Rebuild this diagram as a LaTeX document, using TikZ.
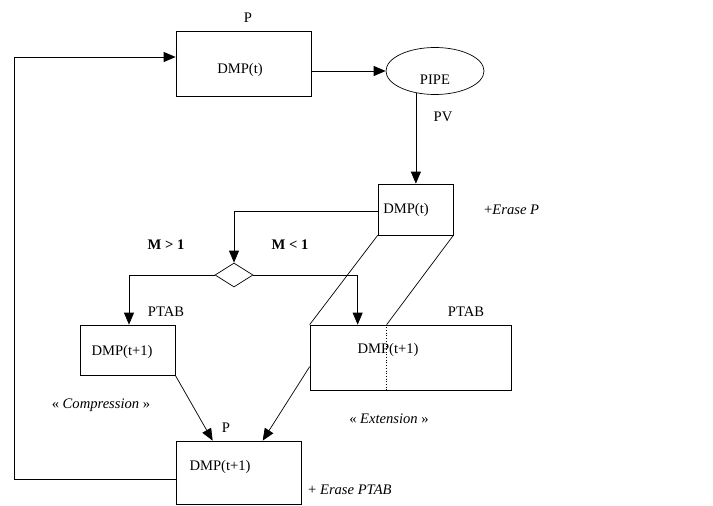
\documentclass[tikz,border=0pt]{standalone}
\usepackage{fontspec}
\setmainfont{Liberation Serif}
\usetikzlibrary{shapes.geometric,arrows.meta,calc}
\begin{document}
\begin{tikzpicture}[x=1pt,y=-1pt,
  box/.style={draw, rectangle, inner sep=0pt, line width=0.7pt},
  txt/.style={inner sep=0pt, font=\fontsize{14.6}{17}\selectfont},
  conn/.style={line width=0.7pt},
  arr/.style={conn, -{Triangle[length=12pt,width=10pt]}}]
\useasboundingbox (0,0) rectangle (713,506);
% boxes
\node[box, minimum width=135pt, minimum height=65pt] (top) at (243.5,63.5) {};
\node[draw, ellipse, line width=0.7pt, inner sep=0pt, minimum width=98pt, minimum height=47pt] (pipe) at (435,71) {};
\node[box, minimum width=75pt, minimum height=51pt] (mid) at (415.5,209.5) {};
\node[draw, diamond, line width=0.7pt, inner sep=0pt, aspect=1.58, minimum width=38pt, minimum height=24pt] (dia) at (234,275) {};
\node[box, minimum width=95pt, minimum height=50pt] (lbox) at (127.5,350) {};
\node[box, minimum width=201pt, minimum height=65pt] (rbox) at (410.5,357.5) {};
\node[box, minimum width=125pt, minimum height=63pt] (bot) at (238.5,472.5) {};
% texts
\node[txt] (tP) at (248,18) {P};
\node[txt] (tTop) at (240,70) {DMP(t)};
\node[txt] (tPipe) at (435,80) {PIPE};
\node[txt] (tPV) at (443,117) {PV};
\node[txt] (tMid) at (406,210) {DMP(t)};
\node[txt, anchor=west] (tErP) at (484,210) {+\textit{Erase P}};
\node[txt] (tM1) at (166,245) {\textbf{M > 1}};
\node[txt] (tM2) at (290,245) {\textbf{M < 1}};
\node[txt] (tPT1) at (166,312) {PTAB};
\node[txt] (tPT2) at (466,312) {PTAB};
\node[txt] (tL) at (122,352) {DMP(t+1)};
\node[txt] (tR) at (388,350) {DMP(t+1)};
\node[txt] (tComp) at (101,405) {« \textit{Compression} »};
\node[txt] (tExt) at (389,419) {« \textit{Extension} »};
\node[txt] (tP2) at (226,428) {P};
\node[txt] (tBot) at (220,467) {DMP(t+1)};
\node[txt, anchor=west] (tErPT) at (308,490) {+ \textit{Erase PTAB}};
% coordinates
\coordinate (fbA) at ($(bot.west)+(0,6.5)$);
\coordinate (fbB) at (14,479);
\coordinate (fbC) at (14,57);
\coordinate (topIn) at (top.west |- fbC);
\coordinate (rTop) at ($(rbox.north west)+(48,0)$);
\coordinate (rDot) at ($(rbox.north west)+(77,0)$);
\coordinate (rDotB) at (rDot |- rbox.south);
\coordinate (rOut) at ($(rbox.north west)+(0,42)$);
\coordinate (botL) at ($(bot.north west)+(37,0)$);
\coordinate (botR) at ($(bot.north west)+(87,0)$);
% connectors
\draw[arr] (fbA) -- (fbB) -- (fbC) -- (topIn);
\draw[arr] (top.east |- pipe.west) -- (pipe.west);
\draw[arr] (pipe.229) -- (pipe.229 |- mid.north);
\draw[arr] ($(mid.west)+(0,1.5)$) -| (dia.north);
\draw[arr] (dia.west) -| ($(lbox.north)+(1.5,0)$);
\draw[arr] (dia.east) -| (rTop);
\draw[conn] (mid.south west) -- (rbox.north west);
\draw[conn] (mid.south east) -- (rDot);
\draw[conn, dotted] (rDot) -- (rDotB);
\draw[arr] (lbox.south east) -- (botL);
\draw[arr] (rOut) -- (botR);
\end{tikzpicture}
\end{document}
